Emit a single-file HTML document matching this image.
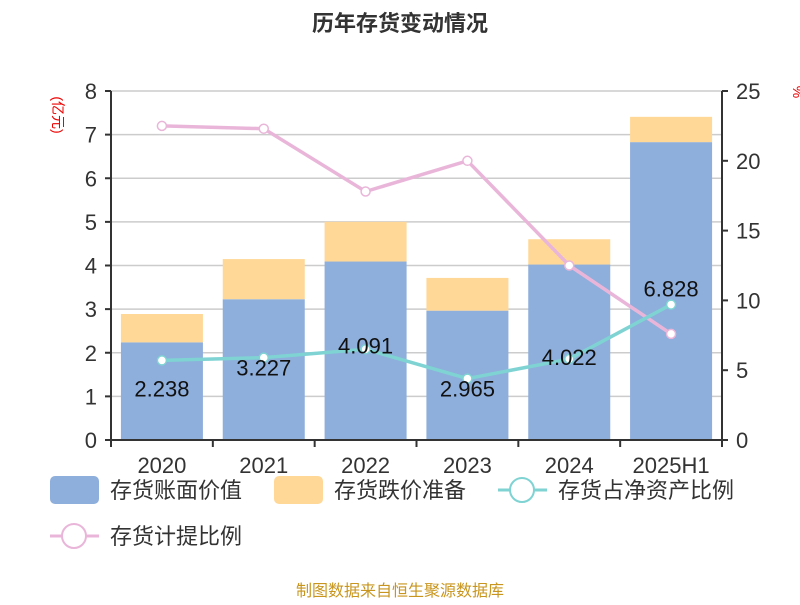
<!DOCTYPE html>
<html><head><meta charset="utf-8"><style>
body{margin:0;background:#fff;}
svg text{font-family:"Liberation Sans","Noto Sans CJK SC",sans-serif;}
</style></head><body>
<svg id="c" width="800" height="600" xmlns="http://www.w3.org/2000/svg">
<text x="400" y="31" text-anchor="middle" font-size="22" font-weight="bold" fill="#333">历年存货变动情况</text>
<text transform="translate(53,115) rotate(90)" text-anchor="middle" font-size="14" fill="#e00">(亿元)</text>
<text transform="translate(793,92) rotate(90)" text-anchor="middle" font-size="14" fill="#e00">%</text>
<g id="grid"></g><g id="bars"></g><g id="lines"></g><g id="axes"></g>
<g font-size="22" fill="#333">
<rect x="50" y="476" width="49" height="28" rx="5" fill="#8eaedb"/>
<text x="110" y="498">存货账面价值</text>
<rect x="274" y="476" width="49" height="28" rx="5" fill="#ffd897"/>
<text x="334" y="498">存货跌价准备</text>
<line x1="498" y1="490" x2="547" y2="490" stroke="#7fd3d3" stroke-width="3"/>
<circle cx="522" cy="490" r="12" fill="#fff" stroke="#7fd3d3" stroke-width="2"/>
<text x="558" y="498">存货占净资产比例</text>
<line x1="50" y1="536" x2="99" y2="536" stroke="#e9b6d9" stroke-width="3"/>
<circle cx="74" cy="536" r="12" fill="#fff" stroke="#e9b6d9" stroke-width="2"/>
<text x="110" y="544">存货计提比例</text>
</g>
<text x="400" y="596" text-anchor="middle" font-size="16" fill="#c8961e">制图数据来自恒生聚源数据库</text>
</svg>
<script>
const categories=["2020","2021","2022","2023","2024","2025H1"];
const bookValue=[2.238,3.227,4.091,2.965,4.022,6.828];
const reserve=[0.65,0.92,0.91,0.75,0.58,0.58];
const shareRatio=[5.7,5.9,6.5,4.4,5.8,9.7];
const provisionRatio=[22.5,22.3,17.8,20.0,12.5,7.6];
const leftTicks=[0,1,2,3,4,5,6,7,8];
const rightTicks=[0,5,10,15,20,25];
const NS="http://www.w3.org/2000/svg";
const L=111,R=722,T=91,B=440;
const band=(R-L)/categories.length;
const xC=i=>L+band*(i+0.5);
const yL=v=>B-(v/8)*(B-T);
const yR=v=>B-(v/25)*(B-T);
function mk(tag,attrs,parent,txt){const e=document.createElementNS(NS,tag);for(const k in attrs)e.setAttribute(k,attrs[k]);if(txt!==undefined)e.textContent=txt;document.getElementById(parent).appendChild(e);return e;}
leftTicks.forEach(t=>{
 const g=mk('line',{x1:L,x2:R,y1:yL(t),y2:yL(t),stroke:'#ccc','stroke-width':1.5},'grid');
 
 
 const tl=mk('text',{x:L-14,y:yL(t)+8,'text-anchor':'end','font-size':22,fill:'#333'},'axes',String(t));
 
 
 mk('line',{x1:L-6,x2:L,y1:yL(t),y2:yL(t),stroke:'#333','stroke-width':2},'axes');
});
rightTicks.forEach(t=>{
 const tl=mk('text',{x:R+14,y:yR(t)+8,'font-size':22,fill:'#333'},'axes',String(t));
 
 
 mk('line',{x1:R,x2:R+6,y1:yR(t),y2:yR(t),stroke:'#333','stroke-width':2},'axes');
});
mk('line',{x1:L,x2:L,y1:T,y2:B,stroke:'#333','stroke-width':2},'axes');
mk('line',{x1:R,x2:R,y1:T,y2:B,stroke:'#333','stroke-width':2},'axes');
mk('line',{x1:L-6,x2:R+6,y1:B,y2:B,stroke:'#333','stroke-width':2},'axes');
for(let i=0;i<=categories.length;i++)mk('line',{x1:L+band*i,x2:L+band*i,y1:B,y2:B+7,stroke:'#333','stroke-width':2},'axes');
const bw=82;
categories.forEach((c,i)=>{
 const b=mk('rect',{x:xC(i)-bw/2,y:yL(bookValue[i]),width:bw,height:B-yL(bookValue[i]),fill:'#8eaedb'},'bars');
 
 
 const r=mk('rect',{x:xC(i)-bw/2,y:yL(bookValue[i]+reserve[i]),width:bw,height:yL(bookValue[i])-yL(bookValue[i]+reserve[i]),fill:'#ffd897'},'bars');
 
 
 const xl=mk('text',{x:xC(i),y:B+33,'text-anchor':'middle','font-size':22,fill:'#333'},'axes',c);
 
 
});
function drawLine(vals,color,name){
 const pts=vals.map((v,i)=>xC(i)+','+yR(v)).join(' ');
 const p=mk('polyline',{points:pts,fill:'none',stroke:color,'stroke-width':3.5},'lines');
 
 
 vals.forEach((v,i)=>{
  const c=mk('circle',{cx:xC(i),cy:yR(v),r:4.5,fill:'#fff',stroke:color,'stroke-width':1.5},'lines');
  
  
 });
}
drawLine(provisionRatio,'#e9b6d9','provision-ratio');
drawLine(shareRatio,'#7fd3d3','share-ratio');
const labelOffset=[36,18,4,18,6,-8];
bookValue.forEach((v,i)=>{
 const y=i===5?yR(shareRatio[i])-8:yR(shareRatio[i])+labelOffset[i];
 const t=mk('text',{x:xC(i),y:y,'text-anchor':'middle','font-size':22,fill:'#111'},'lines',v.toFixed(3));
 
 
});
</script>
</body></html>
